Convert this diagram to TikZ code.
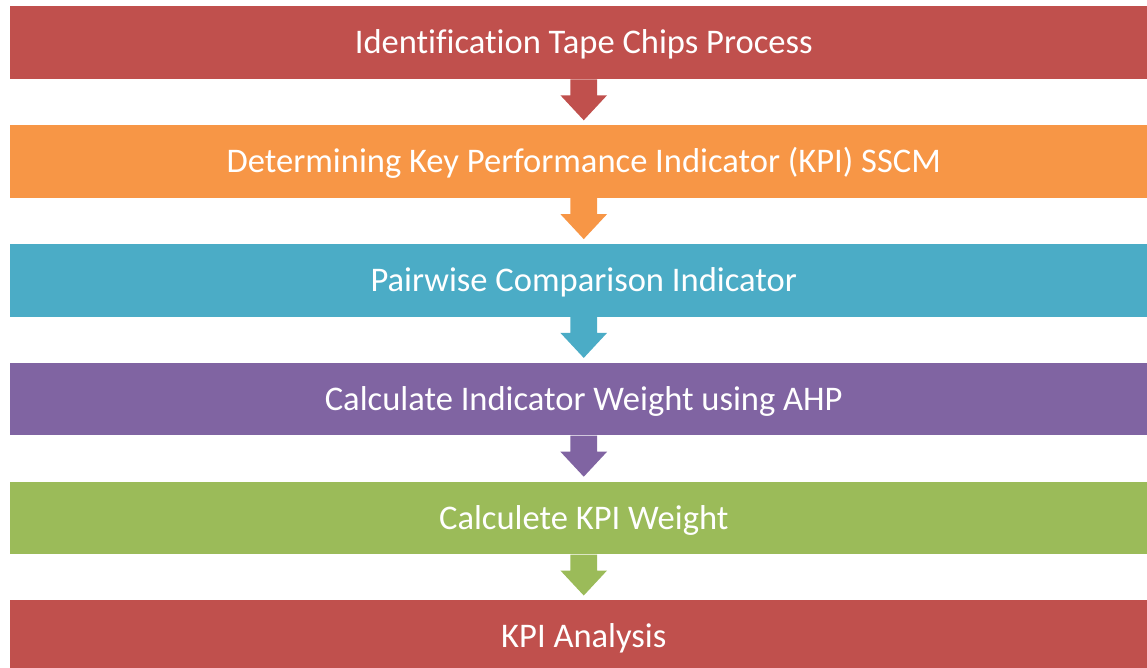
\documentclass[tikz,border=0pt]{standalone}
\usepackage{fontspec}
\setmainfont[Ligatures=NoCommon]{Carlito}
\usetikzlibrary{calc}
\definecolor{stepred}{HTML}{C0504D}
\definecolor{steporange}{HTML}{F79646}
\definecolor{stepblue}{HTML}{4BACC6}
\definecolor{steppurple}{HTML}{8064A2}
\definecolor{stepgreen}{HTML}{9BBB59}
\tikzset{
  stage/.style={rectangle, inner sep=0pt, minimum width=859.9pt, minimum height=54.5pt,
    text height=16.7pt, text depth=0pt,
    text=white, font=\fontsize{25.9}{30}\selectfont},
}
\begin{document}
\begin{tikzpicture}[x=0.75pt, y=-0.75pt]
\useasboundingbox (0,0) rectangle (1147,668);
\node [stage, fill=stepred] (ident) at (583.75,42.7) {Identification Tape Chips Process};
\node [stage, fill=steporange] (kpi) at (583.75,161.5) {Determining Key Performance Indicator (KPI) SSCM};
\node [stage, fill=stepblue] (pair) at (583.75,280.3) {Pairwise Comparison Indicator};
\node [stage, fill=steppurple] (ahp) at (583.75,399.1) {Calculate Indicator Weight using AHP};
\node [stage, fill=stepgreen] (weight) at (583.75,517.9) {Calculete KPI Weight};
\node [stage, fill=stepred] (anal) at (583.75,636.7) {KPI Analysis};
% block arrows between the stages
\fill [stepred] ([xshift=-10pt]ident.south) -- ++(0,16) -- ++(-10,0) -- ($(ident.south)+(0,41)$)
  -- ++(23.3,-25) -- ++(-10,0) -- ([xshift=10pt]ident.south) -- cycle;
\fill [steporange] ([xshift=-10pt]kpi.south) -- ++(0,16) -- ++(-10,0) -- ($(kpi.south)+(0,41)$)
  -- ++(23.3,-25) -- ++(-10,0) -- ([xshift=10pt]kpi.south) -- cycle;
\fill [stepblue] ([xshift=-10pt]pair.south) -- ++(0,16) -- ++(-10,0) -- ($(pair.south)+(0,41)$)
  -- ++(23.3,-25) -- ++(-10,0) -- ([xshift=10pt]pair.south) -- cycle;
\fill [steppurple] ([xshift=-10pt]ahp.south) -- ++(0,16) -- ++(-10,0) -- ($(ahp.south)+(0,41)$)
  -- ++(23.3,-25) -- ++(-10,0) -- ([xshift=10pt]ahp.south) -- cycle;
\fill [stepgreen] ([xshift=-10pt]weight.south) -- ++(0,16) -- ++(-10,0) -- ($(weight.south)+(0,41)$)
  -- ++(23.3,-25) -- ++(-10,0) -- ([xshift=10pt]weight.south) -- cycle;
\end{tikzpicture}
\end{document}
